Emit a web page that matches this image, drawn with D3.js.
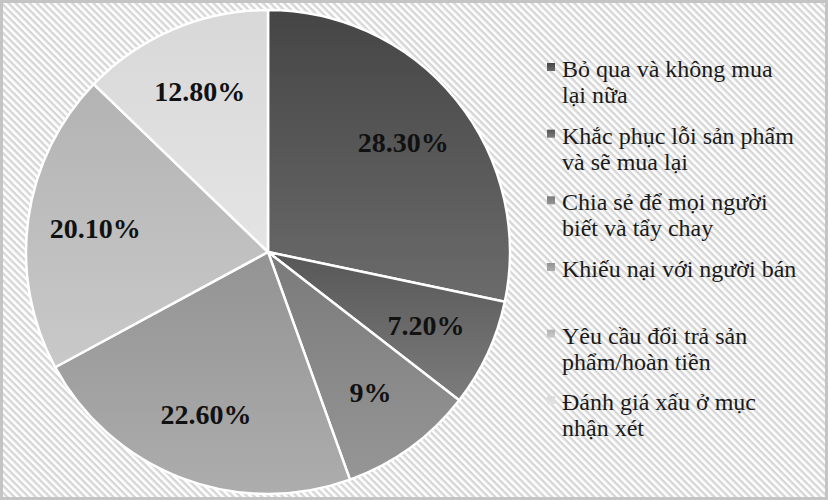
<html>
<head>
<meta charset="utf-8">
<script src="https://d3js.org/d3.v7.min.js"></script>
<style>
body { margin: 0; background: #fff; }
svg { display: block; }
text.pct {
  font-weight: bold;
  font-size: 28px;
  text-anchor: middle;
  dominant-baseline: central;
  fill: #111;
}
text.legend {
  font-size: 24px;
  fill: #1a1a1a;
}
</style>
</head>
<body>
<div id="chart"></div>
<script>

var categories = [
  ["Bỏ qua và không mua", "lại nữa"],
  ["Khắc phục lỗi sản phẩm", "và sẽ mua lại"],
  ["Chia sẻ để mọi người", "biết và tẩy chay"],
  ["Khiếu nại với người bán"],
  ["Yêu cầu đổi trả sản", "phẩm/hoàn tiền"],
  ["Đánh giá xấu ở mục", "nhận xét"]
];
var values = [28.3, 7.2, 9, 22.6, 20.1, 12.8];
var valueLabels = ["28.30%", "7.20%", "9%", "22.60%", "20.10%", "12.80%"];

// grey shades, top / bottom of each gradient
var shadeTop = ["#454545", "#575757", "#7a7a7a", "#939393", "#b3b3b3", "#d8d8d8"];
var shadeBottom = ["#6b6b6b", "#7c7c7c", "#969696", "#adadad", "#c9c9c9", "#e4e4e4"];

var serif = "'Liberation Serif', 'Times New Roman', Times, 'DejaVu Serif', serif";

var width = 828, height = 500;
var cx = 268, cy = 252, radius = 242;

var svg = d3.select("#chart").append("svg")
  .attr("width", width).attr("height", height);

var defs = svg.append("defs");

// diagonal stripes for the background
var pat = defs.append("pattern")
  .attr("id", "stripes")
  .attr("patternUnits", "userSpaceOnUse")
  .attr("width", 5).attr("height", 5)
  .attr("patternTransform", "rotate(45)");
pat.append("rect").attr("width", 5).attr("height", 5).attr("fill", "#ffffff");
pat.append("rect").attr("width", 5).attr("height", 2.4).attr("fill", "#d6d6d6");

values.forEach(function (v, i) {
  var g = defs.append("linearGradient")
    .attr("id", "grad" + i)
    .attr("x1", 0).attr("y1", 0).attr("x2", 0).attr("y2", 1);
  g.append("stop").attr("offset", "0%").attr("stop-color", shadeTop[i]);
  g.append("stop").attr("offset", "100%").attr("stop-color", shadeBottom[i]);
});

svg.append("rect")
  .attr("x", 0).attr("y", 0).attr("width", width).attr("height", height)
  .attr("fill", "url(#stripes)");
svg.append("rect")
  .attr("x", 1.5).attr("y", 1.5).attr("width", width - 3).attr("height", height - 3)
  .attr("fill", "none").attr("stroke", "#c4c4c4").attr("stroke-width", 3);

var pie = d3.pie().sort(null).value(function (d) { return d; });
var arcs = pie(values);

var arc = d3.arc().innerRadius(0).outerRadius(radius);
var labelArc = d3.arc().innerRadius(radius * 0.72).outerRadius(radius * 0.72);

var g = svg.append("g").attr("transform", "translate(" + cx + "," + cy + ")");

g.selectAll("path.slice").data(arcs).enter()
  .append("path")
  .attr("class", "slice")
  .attr("d", arc)
  .attr("fill", function (d, i) { return "url(#grad" + i + ")"; })
  .attr("stroke", "#fff")
  .attr("stroke-width", 2.5)
  .attr("stroke-linejoin", "round");

g.selectAll("text.pct").data(arcs).enter()
  .append("text")
  .attr("class", "pct")
  .style("font-family", serif)
  .attr("x", function (d) { return labelArc.centroid(d)[0]; })
  .attr("y", function (d) { return labelArc.centroid(d)[1]; })
  .text(function (d, i) { return valueLabels[i]; });

// legend
var legendY = d3.scaleBand().domain(d3.range(categories.length)).range([52, 452]);

var items = svg.selectAll("g.item").data(categories).enter()
  .append("g")
  .attr("class", "item")
  .attr("transform", function (d, i) { return "translate(547," + legendY(i) + ")"; });

items.append("rect")
  .attr("x", 0).attr("y", 11).attr("width", 8).attr("height", 8)
  .attr("fill", function (d, i) { return "url(#grad" + i + ")"; });

items.append("text")
  .attr("class", "legend")
  .style("font-family", serif)
  .selectAll("tspan").data(function (d) { return d; }).enter()
  .append("tspan")
  .attr("x", 15)
  .attr("y", function (d, j) { return 25 + j * 26; })
  .text(function (d) { return d; });

</script>
</body>
</html>
